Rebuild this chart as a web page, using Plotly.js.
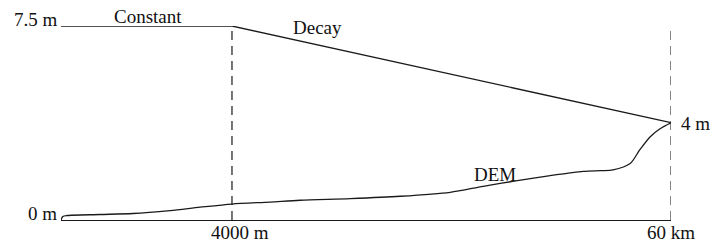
<!DOCTYPE html>
<html>
<head>
<meta charset="utf-8">
<script src="https://cdn.plot.ly/plotly-3.0.1.min.js"></script>
<style>html,body{margin:0;padding:0;background:#fff;}#chart{width:713px;height:242px;}</style>
</head>
<body>
<div id="chart"></div>
<script>
// Schematic distance (fraction of the 0–60 km span as drawn) and height (m, as drawn)
const xStart = 0;
const xTransition = 0.2803;   // drawn position of 4000 m
const xEnd = 1;               // drawn position of 60 km
const constHeight = 7.5;
const decayEndHeight = 3.76;  // drawn height of the "4 m" point

const demX = [0, 0.003, 0.010, 0.064, 0.118, 0.179, 0.228, 0.280, 0.343, 0.392, 0.474, 0.556, 0.638, 0.692, 0.748, 0.802, 0.856, 0.885, 0.905, 0.933, 0.949, 0.966, 0.982, 1.0];
const demY = [0, 0.135, 0.174, 0.212, 0.251, 0.366, 0.494, 0.617, 0.694, 0.764, 0.829, 0.918, 1.072, 1.304, 1.523, 1.716, 1.882, 1.909, 1.935, 2.180, 2.719, 3.220, 3.529, 3.760];

const yTickLabels = ["0 m", "4 m", "7.5 m"];
const xTickLabels = ["4000 m", "60 km"];
const segmentLabels = ["Constant", "Decay", "DEM"];

const yMax = 7.5;
const lineCol = '#1a1a1a';
const fnt = {family: 'Liberation Serif, Times New Roman, serif', size: 19, color: '#111'};

const traces = [
  {x: [xStart, xTransition], y: [constHeight, constHeight], mode: 'lines', line: {color: lineCol, width: 1.3}},
  {x: [xTransition, xEnd], y: [constHeight, decayEndHeight], mode: 'lines', line: {color: lineCol, width: 1.3}},
  {x: demX, y: demY, mode: 'lines', line: {color: lineCol, width: 1.3, shape: 'spline', smoothing: 0.8}},
  {x: [xTransition, xTransition], y: [0, constHeight], mode: 'lines', line: {color: lineCol, width: 1.2, dash: '9px,6px'}},
  {x: [xEnd, xEnd], y: [0, constHeight], mode: 'lines', line: {color: '#333', width: 1.2, dash: '9px,6px'}}
];

// label positions: x as fraction of span, y in drawn metres (converted to paper coords)
const annotations = [
  {x: xStart, y: 7.75, text: yTickLabels[2], xanchor: 'right', yanchor: 'middle', xshift: -1},
  {x: xStart, y: 0.25, text: yTickLabels[0], xanchor: 'right', yanchor: 'middle', xshift: -2},
  {x: xEnd, y: 3.72, text: yTickLabels[1], xanchor: 'left', yanchor: 'middle', xshift: 8},
  {x: 0.2934, y: -0.48, text: xTickLabels[0], xanchor: 'center', yanchor: 'middle'},
  {x: xEnd, y: -0.48, text: xTickLabels[1], xanchor: 'center', yanchor: 'middle'},
  {x: 0.1426, y: 7.85, text: segmentLabels[0], xanchor: 'center', yanchor: 'middle'},
  {x: 0.421, y: 7.46, text: segmentLabels[1], xanchor: 'center', yanchor: 'middle'},
  {x: 0.711, y: 1.755, text: segmentLabels[2], xanchor: 'center', yanchor: 'middle'}
].map(a => Object.assign({xref: 'paper', yref: 'paper', showarrow: false, font: fnt}, a, {y: a.y / yMax}));

const layout = {
  width: 713, height: 242,
  margin: {l: 61, r: 42, t: 26, b: 22, pad: 0},
  paper_bgcolor: '#fff', plot_bgcolor: '#fff',
  showlegend: false,
  xaxis: {range: [0, 1], showgrid: false, zeroline: false, showticklabels: false, ticks: '',
          showline: true, linecolor: lineCol, linewidth: 1.3, fixedrange: true},
  yaxis: {range: [0, yMax], showgrid: false, zeroline: false, showticklabels: false, ticks: '',
          showline: false, fixedrange: true},
  annotations: annotations
};

Plotly.newPlot('chart', traces.map(t => Object.assign({hoverinfo: 'skip', cliponaxis: false}, t)), layout, {staticPlot: true, displayModeBar: false});
</script>
</body>
</html>
